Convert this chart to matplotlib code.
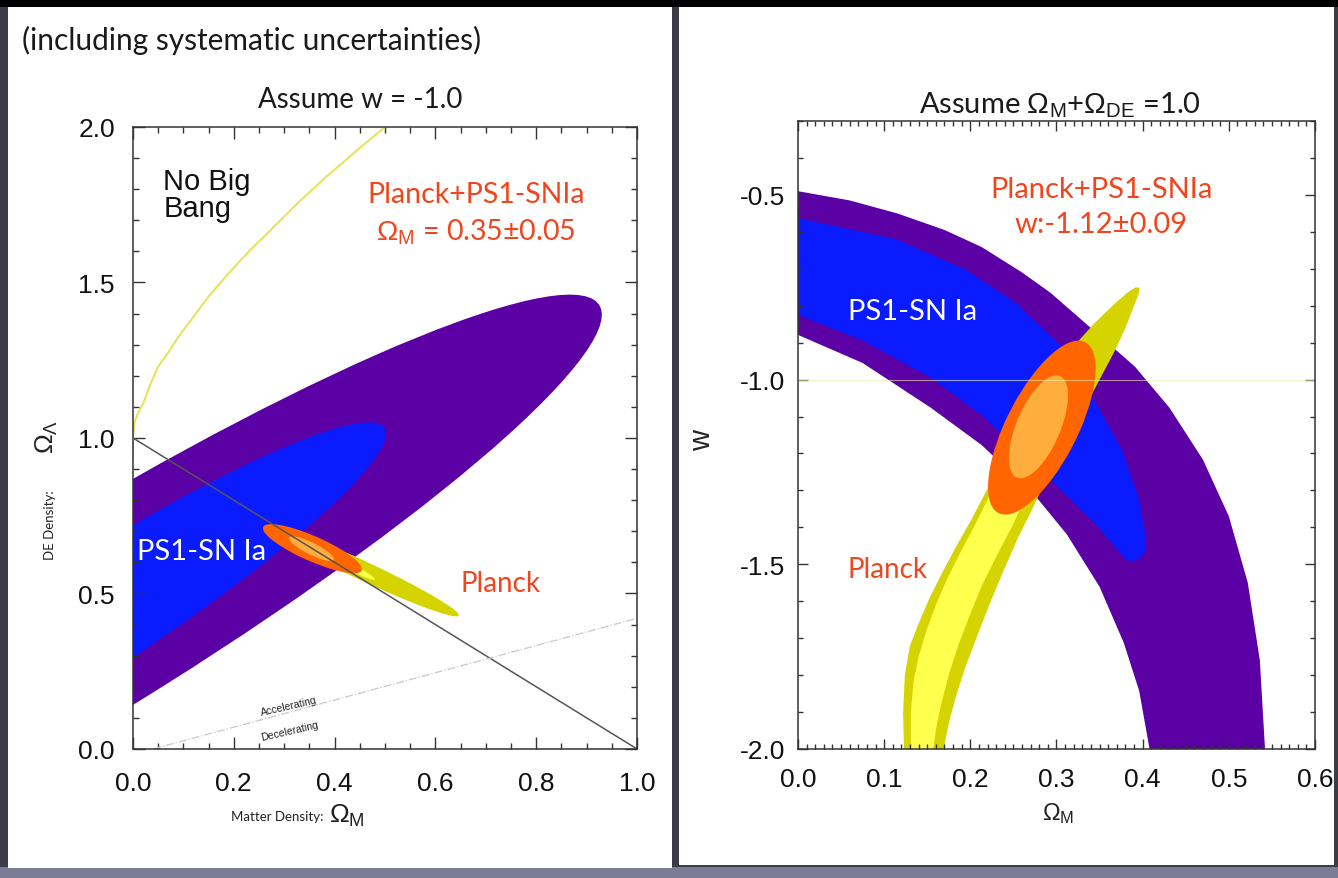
import numpy as np
import matplotlib.pyplot as plt
from matplotlib.patches import Ellipse, Polygon, Rectangle
from matplotlib.ticker import MultipleLocator, FormatStrFormatter

plt.rcParams['font.family'] = ['Liberation Sans', 'DejaVu Sans']
plt.rcParams['mathtext.fontset'] = 'custom'
plt.rcParams['mathtext.rm'] = 'Liberation Sans'
plt.rcParams['mathtext.it'] = 'Liberation Sans:italic'
GILL = ['Lato', 'DejaVu Sans']

# colours of the confidence regions
PURPLE = '#5a00a4'
BLUE = '#0a1cff'
YEL_OUT = '#d5d300'
YEL_IN = '#ffff4d'
ORA_OUT = '#ff6500'
ORA_IN = '#ffad3d'
RED = '#f0461f'

# ---------- left panel: Omega_M vs Omega_Lambda (w = -1) ----------
# ellipses as (centre Om, centre OL, width, height, angle in deg)
sn_2sig_l = (-0.115, 0.395, 2.94, 0.52, 45.6)
sn_1sig_l = (-0.115, 0.391, 1.78, 0.30, 47.0)
pl_2sig_l = (0.458, 0.572, 0.473, 0.054, -37.5)
pl_1sig_l = (0.405, 0.607, 0.195, 0.022, -39.8)
co_2sig_l = (0.356, 0.644, 0.242, 0.071, -37.6)
co_1sig_l = (0.354, 0.644, 0.115, 0.033, -41.0)

# "no big bang" boundary
nbb_om = [0.0, 0.0, 0.003, 0.01, 0.02, 0.035, 0.05, 0.07, 0.09, 0.12, 0.15, 0.19,
          0.23, 0.28, 0.33, 0.38, 0.43, 0.47, 0.50]
nbb_ol = [0.93, 1.00, 1.05, 1.08, 1.11, 1.175, 1.23, 1.275, 1.325, 1.39, 1.455, 1.53,
          1.60, 1.68, 1.76, 1.835, 1.905, 1.96, 2.00]
# flat universe line and accelerating / decelerating divide
flat_om = [0.0, 1.0]
flat_ol = [1.0, 0.0]
acc_om = [0.04, 1.0]
acc_ol = [0.0, 0.42]

# ---------- right panel: Omega_M vs w (flat) ----------
# PS1 2-sigma band: upper-right edge and lower-left edge
sn2_top_x = [-0.02, 0.0, 0.06, 0.115, 0.17, 0.213, 0.26, 0.293, 0.325, 0.352, 0.391, 0.431,
             0.470, 0.500, 0.522, 0.536, 0.542, 0.543]
sn2_top_w = [-0.488, -0.49, -0.515, -0.55, -0.595, -0.641, -0.71, -0.765, -0.83, -0.885, -0.965, -1.076,
             -1.217, -1.37, -1.55, -1.76, -2.0, -2.05]
sn2_bot_x = [0.411, 0.408, 0.396, 0.378, 0.350, 0.312, 0.273, 0.213, 0.154, 0.075, 0.0, -0.02]
sn2_bot_w = [-2.05, -2.0, -1.843, -1.712, -1.561, -1.419, -1.308, -1.177, -1.076, -0.955, -0.879, -0.87]
# PS1 1-sigma region
sn1_x = [-0.02, 0.0, 0.115, 0.194, 0.253, 0.312, 0.345, 0.376, 0.396, 0.403, 0.404, 0.398, 0.388, 0.380,
         0.347, 0.296, 0.213, 0.154, 0.075, 0.0, -0.02]
sn1_w = [-0.558, -0.563, -0.621, -0.702, -0.793, -0.924, -1.06, -1.19, -1.325, -1.42, -1.46, -1.482, -1.492, -1.487,
         -1.396, -1.279, -1.096, -0.995, -0.894, -0.825, -0.815]
# Planck regions (left edge up, round the tip, right edge down)
pl2_x = [0.123, 0.123, 0.122, 0.124, 0.130, 0.140, 0.153, 0.168, 0.184, 0.201, 0.219, 0.238, 0.257,
         0.277, 0.298, 0.320, 0.343, 0.365, 0.382, 0.392, 0.396, 0.396,
         0.390, 0.380, 0.366, 0.350, 0.332, 0.312, 0.292, 0.273, 0.255, 0.238, 0.222, 0.207,
         0.194, 0.183, 0.175, 0.169, 0.168]
pl2_w = [-2.05, -2.0, -1.90, -1.80, -1.72, -1.66, -1.59, -1.52, -1.45, -1.38, -1.30, -1.22, -1.14,
         -1.06, -0.98, -0.91, -0.85, -0.80, -0.765, -0.75, -0.752, -0.765,
         -0.80, -0.86, -0.93, -1.00, -1.08, -1.16, -1.25, -1.345, -1.43, -1.52, -1.61, -1.70,
         -1.78, -1.86, -1.93, -2.0, -2.05]
pl1_x = [0.131, 0.131, 0.131, 0.134, 0.140, 0.149, 0.160, 0.173, 0.188, 0.204, 0.221, 0.240, 0.260, 0.278,
         0.293, 0.288, 0.268, 0.248, 0.230, 0.213, 0.199, 0.186, 0.175, 0.166, 0.160, 0.157, 0.157]
pl1_w = [-2.05, -2.0, -1.90, -1.82, -1.75, -1.68, -1.61, -1.54, -1.47, -1.40, -1.32, -1.24, -1.16, -1.08,
         -1.07, -1.15, -1.30, -1.40, -1.48, -1.56, -1.64, -1.72, -1.80, -1.88, -1.95, -2.0, -2.05]
# Planck + PS1 ellipses (centre Om, centre w, width, height, angle)
co_2sig_r = (0.283, -1.13, 0.479, 0.090, 79.4)
co_1sig_r = (0.279, -1.128, 0.282, 0.054, 81.2)

fig = plt.figure(figsize=(13.38, 8.79), dpi=100, facecolor='#3b3b4a')
# slide background pieces
for rect, col in [((0, 0.991, 1, 0.009), 'black'),
                  ((0, 0, 1, 0.012), '#7b7b93'),
                  ((0.006, 0.0114, 0.4963, 0.9795), 'white'),
                  ((0.5075, 0.0148, 0.4895, 0.9761), 'white')]:
    fig.add_artist(Rectangle(rect[:2], rect[2], rect[3], transform=fig.transFigure,
                             facecolor=col, edgecolor='none', zorder=-1))


def style(ax, xmaj, xmin, ymaj, ymin, majlen, minlen, xpad, ypad):
    ax.xaxis.set_major_locator(MultipleLocator(xmaj))
    ax.xaxis.set_minor_locator(MultipleLocator(xmin))
    ax.yaxis.set_major_locator(MultipleLocator(ymaj))
    ax.yaxis.set_minor_locator(MultipleLocator(ymin))
    ax.xaxis.set_major_formatter(FormatStrFormatter('%.1f'))
    ax.yaxis.set_major_formatter(FormatStrFormatter('%.1f'))
    ax.tick_params(which='both', direction='in', top=True, right=True,
                   color='#333333', labelcolor='#111111', labelsize=19, width=1.0)
    ax.tick_params(which='major', length=majlen)
    ax.tick_params(which='minor', length=minlen)
    ax.tick_params(axis='x', which='major', pad=xpad)
    ax.tick_params(axis='y', which='major', pad=ypad)
    for s in ax.spines.values():
        s.set_linewidth(1.1)
        s.set_color('#333333')


# ---- left panel ----
axL = fig.add_axes([0.0994, 0.1468, 0.3767, 0.7076])
for (cx, cy, w, h, a), col in [(sn_2sig_l, PURPLE), (sn_1sig_l, BLUE),
                               (pl_2sig_l, YEL_OUT), (pl_1sig_l, YEL_IN),
                               (co_2sig_l, ORA_OUT), (co_1sig_l, ORA_IN)]:
    axL.add_patch(Ellipse((cx, cy), w, h, angle=a, facecolor=col, edgecolor='none'))
axL.plot(flat_om, flat_ol, color='#555555', lw=1.1)
axL.plot(nbb_om, nbb_ol, color='#e4e452', lw=1.4)
axL.plot(acc_om, acc_ol, color='#c5c9d2', lw=0.9, ls='-.')
axL.set_xlim(0, 1)
axL.set_ylim(0, 2)
style(axL, 0.2, 0.05, 0.5, 0.1, 8.5, 4.5, 16, 13)

axL.text(0.06, 1.784, 'No Big\nBang', fontsize=21, color='#111111', ha='left', va='center',
         linespacing=0.95)
axL.text(0.68, 1.784, 'Planck+PS1-SNIa', fontsize=20.5, color=RED, family=GILL, ha='center', va='center')
axL.text(0.68, 1.665, r'$\Omega_{\rm M}$ = 0.35±0.05', fontsize=20.5, color=RED, family=GILL,
         ha='center', va='center')
axL.text(0.007, 0.637, 'PS1-SN Ia', fontsize=21, color='white', family=GILL, ha='left', va='center')
axL.text(0.649, 0.535, 'Planck', fontsize=20, color=RED, family=GILL, ha='left', va='center')
axL.text(0.31, 0.138, 'Accelerating', fontsize=7.5, rotation=13, ha='center', va='center', color='#222222')
axL.text(0.31, 0.060, 'Decelerating', fontsize=7.5, rotation=13, ha='center', va='center', color='#222222')

# ---- right panel ----
axR = fig.add_axes([0.5964, 0.1468, 0.3864, 0.7144])
axR.add_patch(Polygon(np.column_stack([sn2_top_x + sn2_bot_x, sn2_top_w + sn2_bot_w]),
                      closed=True, facecolor=PURPLE, edgecolor='none'))
axR.add_patch(Polygon(np.column_stack([sn1_x, sn1_w]), closed=True, facecolor=BLUE, edgecolor='none'))
axR.add_patch(Polygon(np.column_stack([pl2_x, pl2_w]), closed=True, facecolor=YEL_OUT, edgecolor='none'))
axR.add_patch(Polygon(np.column_stack([pl1_x, pl1_w]), closed=True, facecolor=YEL_IN, edgecolor='none'))
for (cx, cy, w, h, a), col in [(co_2sig_r, ORA_OUT), (co_1sig_r, ORA_IN)]:
    axR.add_patch(Ellipse((cx, cy), w, h, angle=a, facecolor=col, edgecolor='none'))
axR.axhline(-1.0, color='#eeeeaa', lw=0.8, alpha=0.6)
axR.set_xlim(0, 0.6)
axR.set_ylim(-2.0, -0.3)
style(axR, 0.1, 0.01, 0.5, 0.1, 7.5, 3.5, 13, 9)

axR.text(0.352, -0.484, 'Planck+PS1-SNIa', fontsize=21, color=RED, family=GILL, ha='center', va='center')
axR.text(0.352, -0.580, 'w:-1.12±0.09', fontsize=21, color=RED, family=GILL, ha='center', va='center')
axR.text(0.058, -0.815, 'PS1-SN Ia', fontsize=21, color='white', family=GILL, ha='left', va='center')
axR.text(0.058, -1.514, 'Planck', fontsize=20, color=RED, family=GILL, ha='left', va='center')

# ---- titles and axis labels ----
fig.text(0.0164, 0.9545, '(including systematic uncertainties)', fontsize=21.5, family=GILL,
         color='#1a1a1a', ha='left', va='center')
fig.text(0.269, 0.886, 'Assume w = -1.0', fontsize=20, family=GILL, color='#1a1a1a', ha='center', va='center')
fig.text(0.7922, 0.8805, r'Assume $\Omega_{\rm M}$+$\Omega_{\rm DE}$ =1.0', fontsize=21, family=GILL,
         color='#1a1a1a', ha='center', va='center')
fig.text(0.207, 0.0700, 'Matter Density:', fontsize=9.5, family=GILL, color='#222222', ha='center', va='center')
fig.text(0.2593, 0.0720, r'$\Omega_{\rm M}$', fontsize=19, color='#222222', ha='center', va='center')
fig.text(0.0374, 0.4027, 'DE Density:', fontsize=9.5, family=GILL, color='#222222', rotation=90,
         ha='center', va='center')
fig.text(0.0351, 0.503, r'$\Omega_\Lambda$', fontsize=19, color='#222222', rotation=90, ha='center', va='center')
fig.text(0.5247, 0.4994, 'w', fontsize=21, color='#222222', rotation=90, ha='center', va='center')
fig.text(0.7907, 0.0740, r'$\Omega_{\rm M}$', fontsize=17, color='#222222', ha='center', va='center')

fig.savefig('out.png', dpi=100, facecolor=fig.get_facecolor())
